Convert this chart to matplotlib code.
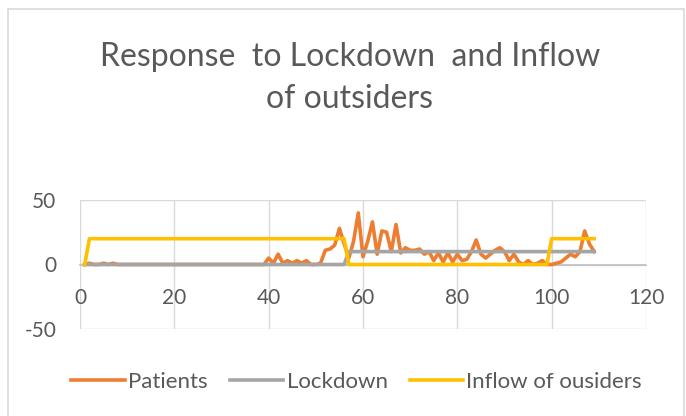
import matplotlib
matplotlib.use("Agg")
import matplotlib.pyplot as plt
from matplotlib.patches import Rectangle

plt.rcParams["font.family"] = ["Lato", "DejaVu Sans"]
plt.rcParams["axes.unicode_minus"] = False

TITLE = "Response  to Lockdown  and Inflow\nof outsiders"

days = list(range(1, 110))

patients = [
    0, 1, 0, 0, 1, 0, 1, 0, 0, 0,          # 1-10
    0, 0, 0, 0, 0, 0, 0, 0, 0, 0,          # 11-20
    0, 0, 0, 0, 0, 0, 0, 0, 0, 0,          # 21-30
    0, 0, 0, 0, 0, 0, 0, 0, 0, 5,          # 31-40
    1, 8, 1, 3, 1, 3, 1, 3, 0, 0,          # 41-50
    1, 11, 12, 15, 28, 16, 5, 18, 40, 6,   # 51-60
    18, 33, 8, 26, 25, 10, 31, 9, 13, 11,  # 61-70
    11, 12, 8, 10, 3, 9, 2, 9, 2, 8,       # 71-80
    3, 4, 10, 19, 8, 5, 8, 11, 13, 10,     # 81-90
    3, 8, 2, 0, 3, 0, 1, 3, 0, 0,          # 91-100
    1, 2, 5, 8, 6, 10, 26, 16, 10,         # 101-109
]
lockdown = [0] * 56 + [10] * 53
inflow = [0] + [20] * 55 + [0] * 43 + [20] * 10

C_PAT = "#ED7D31"
C_LOCK = "#A5A5A5"
C_INF = "#FFC000"
C_TEXT = "#595959"
C_GRID = "#D9D9D9"

W, H = 686, 416
fig = plt.figure(figsize=(W / 100, H / 100), dpi=100)
fig.patch.set_facecolor("white")

# chart border
fig.add_artist(Rectangle((8 / W, -0.05), 676 / W, 1.05 - 9 / H, transform=fig.transFigure,
                         facecolor="none", edgecolor=C_GRID, linewidth=1.2))

ax = fig.add_axes([80 / W, 1 - 329 / H, 566 / W, 129 / H])

lw = 2.6
ax.plot(days, patients, color=C_PAT, linewidth=lw, solid_joinstyle="round", label="Patients", zorder=3)
ax.plot(days, lockdown, color=C_LOCK, linewidth=lw, solid_joinstyle="round", label="Lockdown", zorder=4)
ax.plot(days, inflow, color=C_INF, linewidth=lw, solid_joinstyle="round", label="Inflow of ousiders", zorder=5)

ax.set_xlim(0, 120)
ax.set_ylim(-50, 50)
ax.set_xticks(range(0, 121, 20))
ax.set_yticks([-50, 0, 50])
ax.grid(True, color=C_GRID, linewidth=1)
ax.set_axisbelow(True)

for s in ["top", "right", "left"]:
    ax.spines[s].set_visible(False)
ax.spines["bottom"].set_position(("data", 0))
ax.spines["bottom"].set_color("#BFBFBF")
ax.spines["bottom"].set_linewidth(1.2)
ax.spines["bottom"].set_zorder(2)

ax.tick_params(axis="both", length=0, labelsize=15, colors=C_TEXT)
ax.tick_params(axis="x", pad=17)
ax.tick_params(axis="y", pad=17)

fig.text(0.51, 1 - 78 / H, TITLE, ha="center", va="center", fontsize=23,
         color=C_TEXT, linespacing=1.5)

fig.legend(loc="center", bbox_to_anchor=(0.52, 1 - 382 / H), ncol=3, frameon=False,
           fontsize=16, labelcolor=C_TEXT, handlelength=2.4, handletextpad=0.15,
           columnspacing=1.0)

fig.savefig("out.png", dpi=100, facecolor="white")
